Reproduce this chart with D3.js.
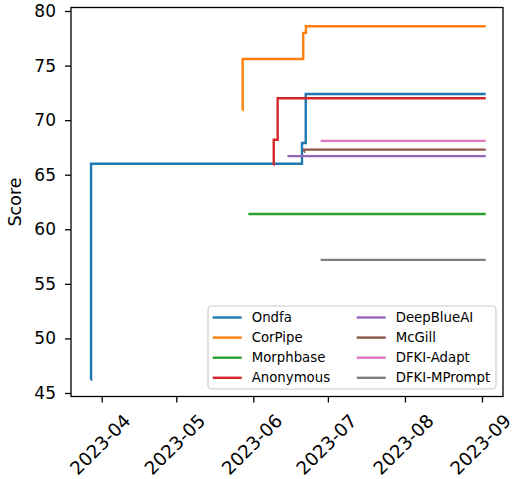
<!DOCTYPE html>
<html>
<head>
<meta charset="utf-8">
<script src="https://cdn.jsdelivr.net/npm/d3@7"></script>
<style>
  html, body { margin: 0; padding: 0; background: #fff; }
  svg { display: block; font-family: "DejaVu Sans", sans-serif; }
</style>
</head>
<body>
<svg id="chart" width="516" height="479"></svg>
<script>
// ---------- data ----------
const seriesNames = ["Ondfa", "CorPipe", "Morphbase", "Anonymous", "DeepBlueAI", "McGill", "DFKI-Adapt", "DFKI-MPrompt"];
const seriesColors = ["#1f77b4", "#ff7f0e", "#2ca02c", "#d62728", "#9467bd", "#8c564b", "#e377c2", "#7f7f7f"];

const ondfaDates   = ["2023-03-27T17:00", "2023-03-27T17:10", "2023-06-20T14:00", "2023-06-22T02:00", "2023-09-02T12:00"];
const ondfaScores  = [46.2, 66.0, 67.9, 72.4, 72.4];
const corpipeDates  = ["2023-05-27T17:00", "2023-05-27T17:10", "2023-06-21T02:00", "2023-06-22T04:00", "2023-09-02T12:00"];
const corpipeScores = [70.9, 75.6, 78.0, 78.6, 78.6];
const morphbaseDates  = ["2023-05-30T00:00", "2023-09-02T12:00"];
const morphbaseScores = [61.4, 61.4];
const anonymousDates  = ["2023-06-09T05:00", "2023-06-09T05:10", "2023-06-10T19:00", "2023-09-02T12:00"];
const anonymousScores = [65.9, 68.2, 72.0, 72.0];
const deepblueDates  = ["2023-06-14T17:00", "2023-09-02T12:00"];
const deepblueScores = [66.7, 66.7];
const mcgillDates  = ["2023-06-21T10:00", "2023-06-21T10:10", "2023-09-02T12:00"];
const mcgillScores = [67.1, 67.3, 67.3];
const dfkiAdaptDates  = ["2023-06-28T02:00", "2023-09-02T12:00"];
const dfkiAdaptScores = [68.1, 68.1];
const dfkiMPromptDates  = ["2023-06-28T02:00", "2023-09-02T12:00"];
const dfkiMPromptScores = [57.2, 57.2];

const seriesDates  = [ondfaDates, corpipeDates, morphbaseDates, anonymousDates, deepblueDates, mcgillDates, dfkiAdaptDates, dfkiMPromptDates];
const seriesScores = [ondfaScores, corpipeScores, morphbaseScores, anonymousScores, deepblueScores, mcgillScores, dfkiAdaptScores, dfkiMPromptScores];

const xTickLabels = ["2023-04", "2023-05", "2023-06", "2023-07", "2023-08", "2023-09"];
const yTickValues = [45, 50, 55, 60, 65, 70, 75, 80];

// ---------- layout ----------
const plot = { left: 71, right: 503, top: 7.5, bottom: 396.5 };
const svg = d3.select("#chart");

const parseTime = d3.utcParse("%Y-%m-%dT%H:%M");
const parseMonth = d3.utcParse("%Y-%m");

const x = d3.scaleUtc()
  .domain([parseMonth("2023-04"), parseMonth("2023-09")])
  .range([101.7, 482]);
const y = d3.scaleLinear()
  .domain([45, 80])
  .range([393, 11]);

// clip
svg.append("defs").append("clipPath").attr("id", "clip")
  .append("rect").attr("x", plot.left).attr("y", plot.top)
  .attr("width", plot.right - plot.left).attr("height", plot.bottom - plot.top);

// lines
const line = d3.line()
  .x(d => x(d.date))
  .y(d => y(d.score))
  .curve(d3.curveStepAfter);

const linesG = svg.append("g").attr("clip-path", "url(#clip)");
seriesNames.forEach((name, i) => {
  const pts = seriesDates[i].map((d, j) => ({ date: parseTime(d), score: seriesScores[i][j] }));
  linesG.append("path")
    .attr("d", line(pts))
    .attr("fill", "none")
    .attr("stroke", seriesColors[i])
    .attr("stroke-width", 2.4)
    .attr("stroke-linejoin", "miter")
    .attr("stroke-linecap", "butt");
});

// axes
const yAxis = d3.axisLeft(y).tickValues(yTickValues).tickSize(6).tickPadding(9);
const yG = svg.append("g").attr("transform", `translate(${plot.left},0)`).call(yAxis);
yG.select(".domain").remove();
yG.selectAll(".tick line").attr("stroke", "#000").attr("stroke-width", 1.3);
yG.selectAll(".tick text")
  .attr("font-family", "DejaVu Sans").attr("font-size", 17).attr("fill", "#000");

const xAxis = d3.axisBottom(x).tickValues(xTickLabels.map(parseMonth)).tickSize(6).tickFormat(d3.utcFormat("%Y-%m"));
const xG = svg.append("g").attr("transform", `translate(0,${plot.bottom})`).call(xAxis);
xG.select(".domain").remove();
xG.selectAll(".tick line").attr("stroke", "#000").attr("stroke-width", 1.3);
xG.selectAll(".tick text")
  .attr("font-family", "DejaVu Sans").attr("font-size", 18.3).attr("fill", "#000")
  .attr("text-anchor", "middle")
  .attr("dy", null)
  .attr("y", null)
  .attr("dominant-baseline", "central")
  .attr("transform", "translate(-2,48) rotate(-45)");

// frame
svg.append("rect")
  .attr("x", plot.left).attr("y", plot.top)
  .attr("width", plot.right - plot.left).attr("height", plot.bottom - plot.top)
  .attr("fill", "none").attr("stroke", "#000").attr("stroke-width", 1.3);

// y label
svg.append("text")
  .attr("transform", `translate(15,${(plot.top + plot.bottom) / 2}) rotate(-90)`)
  .attr("text-anchor", "middle")
  .attr("dominant-baseline", "central")
  .attr("font-size", 17.5).attr("fill", "#000")
  .text("Score");

// legend
const legend = svg.append("g");
legend.append("rect")
  .attr("x", 208).attr("y", 306).attr("width", 288).attr("height", 83)
  .attr("rx", 4).attr("fill", "#fff").attr("fill-opacity", 0.8)
  .attr("stroke", "#cccccc").attr("stroke-width", 1.2);
seriesNames.forEach((name, i) => {
  const col = Math.floor(i / 4), row = i % 4;
  const lx = col === 0 ? 212.7 : 356.7;
  const ly = 317.5 + row * 20.1;
  legend.append("line")
    .attr("x1", lx).attr("x2", lx + 29).attr("y1", ly).attr("y2", ly)
    .attr("stroke", seriesColors[i]).attr("stroke-width", 2.4);
  legend.append("text")
    .attr("x", lx + 39).attr("y", ly)
    .attr("dominant-baseline", "central")
    .attr("font-size", 13.3).attr("fill", "#000")
    .text(name);
});
</script>
</body>
</html>
